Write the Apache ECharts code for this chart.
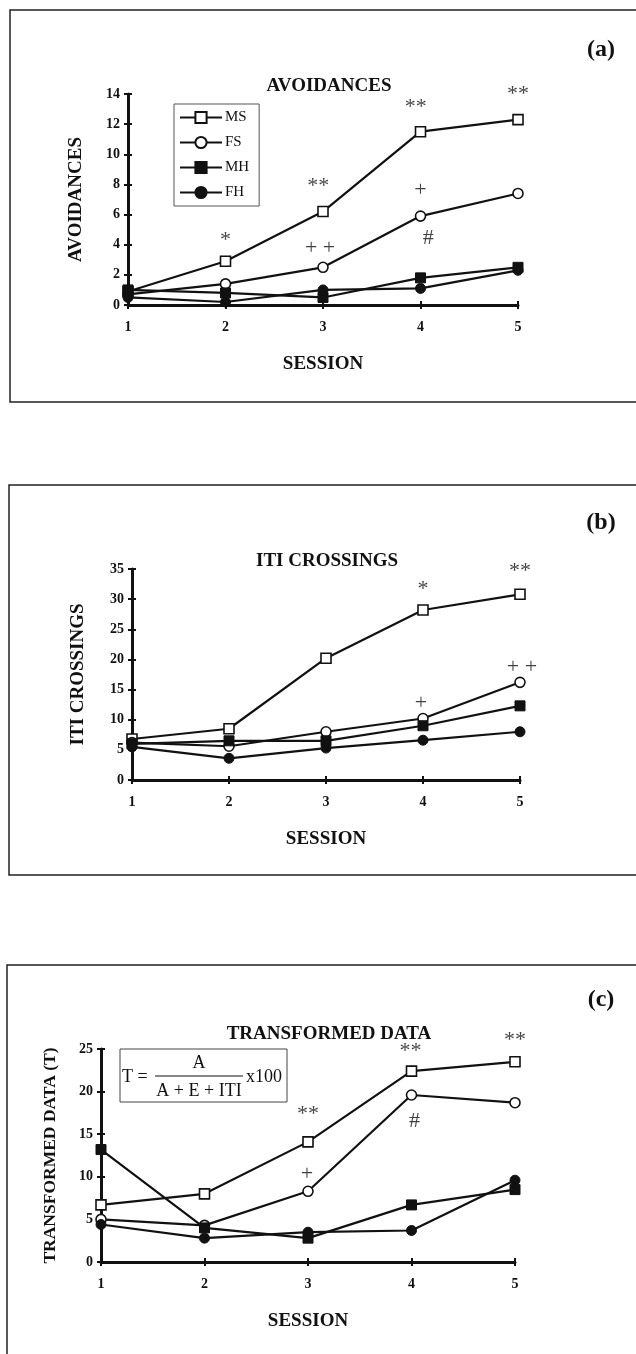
<!DOCTYPE html>
<html>
<head>
<meta charset="utf-8">
<script src="https://cdn.jsdelivr.net/npm/echarts@6/dist/echarts.min.js"></script>
<style>
  html, body { margin: 0; padding: 0; background: #fff; }
</style>
</head>
<body>
<div id="chart" style="width: 636px; height: 1354px;"></div>
<script>
// sessions on x
const sessions = [1, 2, 3, 4, 5]
const groups = ['MS', 'FS', 'MH', 'FH']

// (a) avoidances
const avoidMS = [0.9, 2.9, 6.2, 11.5, 12.3]
const avoidFS = [0.7, 1.4, 2.5, 5.9, 7.4]
const avoidMH = [1.0, 0.8, 0.5, 1.8, 2.5]
const avoidFH = [0.5, 0.2, 1.0, 1.1, 2.3]

// (b) iti crossings
const itiMS = [6.8, 8.5, 20.2, 28.2, 30.8]
const itiFS = [6.2, 5.6, 8.0, 10.2, 16.2]
const itiMH = [6.0, 6.5, 6.5, 9.0, 12.3]
const itiFH = [5.5, 3.6, 5.3, 6.6, 8.0]

// (c) transformed data
const transMS = [6.7, 8.0, 14.1, 22.4, 23.5]
const transFS = [5.0, 4.3, 8.3, 19.6, 18.7]
const transMH = [13.2, 4.0, 2.8, 6.7, 8.5]
const transFH = [4.4, 2.8, 3.5, 3.7, 9.6]

// significance marks: [session, y, text]
const marksA = [[2, 4.3, '*'], [2.95, 7.9, '**'], [2.97, 3.8, '+ +'], [3.95, 13.1, '**'], [4.0, 7.6, '+'], [4.08, 4.4, '#'], [5, 14.0, '**']]
const marksB = [[4.0, 31.6, '*'], [5.0, 34.6, '**'], [5.02, 18.7, '+ +'], [3.98, 12.8, '+']]
const marksC = [[3.0, 17.4, '**'], [2.99, 10.3, '+'], [3.99, 24.7, '**'], [4.03, 16.5, '#'], [5.0, 26.0, '**']]

const yMax = [14, 35, 25]
const yStep = [2, 5, 5]

const serif = 'Liberation Serif'

const grids = [
  { left: 128, right: 118, top: 94, height: 211 },
  { left: 132, right: 116, top: 569, height: 211 },
  { left: 101, right: 121, top: 1049, height: 213 }
]

const yNames = ['AVOIDANCES', 'ITI CROSSINGS', 'TRANSFORMED DATA (T)']
const yNameGap = [42, 44, 42]
const yNameSize = [19, 19, 17.5]

const xAxes = []
const yAxes = []
grids.forEach((g, i) => {
  xAxes.push({
    gridIndex: i,
    type: 'value',
    position: 'bottom',
    min: 1,
    max: 5,
    interval: 1,
    name: 'SESSION',
    nameLocation: 'middle',
    nameGap: 50,
    nameTextStyle: { fontFamily: serif, fontWeight: 'bold', fontSize: 19, color: '#111' },
    axisLine: { lineStyle: { color: '#111', width: 3 } },
    axisTick: { length: 4, lineStyle: { color: '#111', width: 2 } },
    axisLabel: { fontFamily: serif, fontWeight: 'bold', fontSize: 14, color: '#111', margin: 15 },
    splitLine: { show: false }
  })
  yAxes.push({
    gridIndex: i,
    type: 'value',
    position: 'left',
    min: 0,
    max: yMax[i],
    interval: yStep[i],
    name: yNames[i],
    nameLocation: 'middle',
    nameRotate: 90,
    nameGap: yNameGap[i],
    nameTextStyle: { fontFamily: serif, fontWeight: 'bold', fontSize: yNameSize[i], color: '#111' },
    axisLine: { show: true, lineStyle: { color: '#111', width: 3 } },
    axisTick: { show: true, length: 4, lineStyle: { color: '#111', width: 2 } },
    axisLabel: { fontFamily: serif, fontWeight: 'bold', fontSize: 14, color: '#111', margin: 8 },
    splitLine: { show: false }
  })
})
// overlay axes so the ticks cross the axis line
grids.forEach((g, i) => {
  xAxes.push({
    gridIndex: i, type: 'value', position: 'bottom', min: 1, max: 5, interval: 1,
    axisLine: { show: false },
    axisTick: { inside: true, length: 4, lineStyle: { color: '#111', width: 2 } },
    axisLabel: { show: false }, splitLine: { show: false }
  })
  yAxes.push({
    gridIndex: i, type: 'value', position: 'left', min: 0, max: yMax[i], interval: yStep[i],
    axisLine: { show: false },
    axisTick: { show: true, inside: true, length: 4, lineStyle: { color: '#111', width: 2 } },
    axisLabel: { show: false }, splitLine: { show: false }
  })
})

function line(name, vals, gi, symbol, filled) {
  return {
    name: name,
    type: 'line',
    xAxisIndex: gi,
    yAxisIndex: gi,
    data: sessions.map((s, k) => [s, vals[k]]),
    symbol: symbol,
    symbolSize: 10,
    showAllSymbol: true,
    lineStyle: { color: '#111', width: 2.2 },
    itemStyle: filled
      ? { color: '#111', borderColor: '#111', borderWidth: 1 }
      : { color: '#fff', borderColor: '#111', borderWidth: 1.6 },
    z: 3
  }
}

function marks(list, gi) {
  return {
    type: 'scatter',
    xAxisIndex: gi,
    yAxisIndex: gi,
    data: list,
    symbolSize: 0,
    clip: false,
    silent: true,
    label: {
      show: true,
      position: 'inside',
      formatter: p => p.data[2],
      fontFamily: serif,
      fontSize: 22,
      color: '#111'
    },
    z: 5
  }
}

const sets = [
  [avoidMS, avoidFS, avoidMH, avoidFH],
  [itiMS, itiFS, itiMH, itiFH],
  [transMS, transFS, transMH, transFH]
]
const shapes = [['rect', false], ['circle', false], ['rect', true], ['circle', true]]

const series = []
sets.forEach((set, gi) => {
  set.forEach((vals, k) => {
    series.push(line(groups[k], vals, gi, shapes[k][0], shapes[k][1]))
  })
})
series.push(marks(marksA, 0))
series.push(marks(marksB, 1))
series.push(marks(marksC, 2))

const titleStyle = { fontFamily: serif, fontWeight: 'bold', fontSize: 19, color: '#111' }
const tagStyle = { fontFamily: serif, fontWeight: 'bold', fontSize: 24, color: '#111' }

const option = {
  animation: false,
  backgroundColor: '#fff',
  title: [
    { text: 'AVOIDANCES', left: 324, top: 72, textAlign: 'center', textStyle: titleStyle },
    { text: 'ITI CROSSINGS', left: 322, top: 547, textAlign: 'center', textStyle: titleStyle },
    { text: 'TRANSFORMED DATA', left: 324, top: 1020, textAlign: 'center', textStyle: titleStyle },
    { text: '(a)', left: 596, top: 33, textAlign: 'center', textStyle: tagStyle },
    { text: '(b)', left: 596, top: 506, textAlign: 'center', textStyle: tagStyle },
    { text: '(c)', left: 596, top: 983, textAlign: 'center', textStyle: tagStyle }
  ],
  legend: {
    data: groups,
    orient: 'vertical',
    left: 174,
    top: 104,
    padding: [6, 10, 6, 5],
    itemWidth: 42,
    itemHeight: 14,
    itemGap: 10,
    borderColor: '#555',
    borderWidth: 1,
    selectedMode: false,
    textStyle: { fontFamily: serif, fontSize: 15, color: '#111', padding: [0, 0, 0, -2] }
  },
  grid: grids,
  xAxis: xAxes,
  yAxis: yAxes,
  series: series,
  graphic: [
    { type: 'rect', shape: { x: 10, y: 10, width: 700, height: 392 }, style: { fill: 'none', stroke: '#222', lineWidth: 1.5 }, silent: true },
    { type: 'rect', shape: { x: 9, y: 485, width: 700, height: 390 }, style: { fill: 'none', stroke: '#222', lineWidth: 1.5 }, silent: true },
    { type: 'rect', shape: { x: 7, y: 965, width: 700, height: 420 }, style: { fill: 'none', stroke: '#222', lineWidth: 1.5 }, silent: true },
    // formula box in (c)
    { type: 'rect', shape: { x: 120, y: 1049, width: 167, height: 53 }, style: { fill: '#fff', stroke: '#444', lineWidth: 1 }, z: 10, silent: true },
    { type: 'text', x: 122, y: 1077, style: { text: 'T =', font: '18px "Liberation Serif"', fill: '#111', textVerticalAlign: 'middle' }, z: 11 },
    { type: 'line', shape: { x1: 155, y1: 1076, x2: 243, y2: 1076 }, style: { stroke: '#111', lineWidth: 1 }, z: 11 },
    { type: 'text', x: 199, y: 1063, style: { text: 'A', font: '18px "Liberation Serif"', fill: '#111', textAlign: 'center', textVerticalAlign: 'middle' }, z: 11 },
    { type: 'text', x: 199, y: 1091, style: { text: 'A + E + ITI', font: '18px "Liberation Serif"', fill: '#111', textAlign: 'center', textVerticalAlign: 'middle' }, z: 11 },
    { type: 'text', x: 246, y: 1077, style: { text: 'x100', font: '18px "Liberation Serif"', fill: '#111', textVerticalAlign: 'middle' }, z: 11 }
  ]
}

const chart = echarts.init(document.getElementById('chart'))
chart.setOption(option)
</script>
</body>
</html>
